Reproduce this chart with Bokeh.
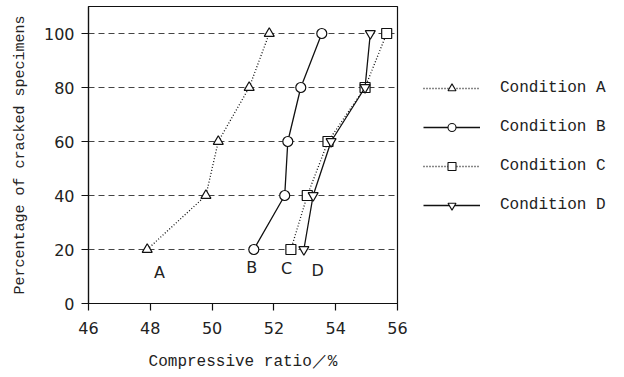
from bokeh.plotting import figure
from bokeh.models import Legend, LegendItem, FixedTicker, Range1d
from bokeh.core.properties import value
from bokeh.embed import file_html
from bokeh.resources import INLINE

# ---- data ----
pct = [20, 40, 60, 80, 100]
cond_a = [47.9, 49.8, 50.2, 51.2, 51.85]
cond_b = [51.35, 52.35, 52.45, 52.87, 53.55]
cond_c = [52.55, 53.08, 53.75, 54.95, 55.65]
cond_d = [52.97, 53.27, 53.85, 54.95, 55.12]
series_names = ["Condition A", "Condition B", "Condition C", "Condition D"]
letters = ["A", "B", "C", "D"]
letter_x = [48.3, 51.28, 52.41, 53.42]
letter_y = [11.5, 13.2, 12.8, 12.2]
x_ticks = [46, 48, 50, 52, 54, 56]
y_ticks = [0, 20, 40, 60, 80, 100]

p = figure(frame_width=309, frame_height=297, output_backend="svg",
           toolbar_location=None, x_range=Range1d(46, 56), y_range=Range1d(0, 110),
           min_border_left=88, min_border_right=215, min_border_top=6,
           min_border_bottom=70, background_fill_color="white",
           border_fill_color="white")

p.outline_line_color = "#111111"
p.outline_line_width = 1.2
p.xgrid.visible = False
p.ygrid.ticker = FixedTicker(ticks=y_ticks[1:])
p.ygrid.grid_line_color = "#444444"
p.ygrid.grid_line_dash = "6 4"
p.ygrid.grid_line_width = 1

for ax in (p.xaxis[0], p.yaxis[0]):
    ax.axis_line_color = "#111111"
    ax.axis_line_width = 1.2
    ax.major_tick_line_color = "#111111"
    ax.major_tick_line_width = 1.2
    ax.major_tick_out = 7
    ax.major_tick_in = 0
    ax.minor_tick_line_color = None
    ax.major_label_text_font = "DejaVu Sans"
    ax.major_label_text_font_size = "16px"
    ax.major_label_text_color = "#222222"
    ax.axis_label_text_font_style = "normal"
    ax.axis_label_text_color = "#222222"

p.xaxis.ticker = FixedTicker(ticks=x_ticks)
p.yaxis.ticker = FixedTicker(ticks=y_ticks)
p.xaxis.major_label_standoff = 11
p.yaxis.major_label_standoff = 7
p.xaxis.axis_label = "Compressive ratio／%"
p.xaxis.axis_label_text_font = "Liberation Mono"
p.xaxis.axis_label_text_font_size = "16px"
p.xaxis.axis_label_standoff = 16
p.yaxis.axis_label = "Percentage of cracked specimens"
p.yaxis.axis_label_text_font = "Liberation Mono"
p.yaxis.axis_label_text_font_size = "15px"
p.yaxis.axis_label_standoff = 12

styles = [
    (cond_a, "dotted_line", "triangle"),
    (cond_b, "solid", "circle"),
    (cond_c, "dotted_line", "square"),
    (cond_d, "solid", "inverted_triangle"),
]

items = []
for (xs, dash, marker), name in zip(styles, series_names):
    ld = "1 2" if dash == "dotted_line" else "solid"
    lr = p.line(xs, pct, line_color="#111111", line_width=1.3, line_dash=ld)
    # smaller marker used for the legend key; it sits under the plotted marker
    small = p.scatter(xs, pct, marker=marker, size=7, fill_color="white",
                      line_color="#111111", line_width=1.1)
    p.scatter(xs, pct, marker=marker, size=10, fill_color="white",
              line_color="#111111", line_width=1.2)
    items.append(LegendItem(label=name, renderers=[lr, small]))

p.text(x=letter_x, y=letter_y, text=letters, text_font=value("DejaVu Sans"),
       text_font_size="16px", text_color="#222222", text_align="center",
       text_baseline="middle")

legend = Legend(items=items, location=(26, 88), glyph_width=57, glyph_height=20,
                label_height=20, spacing=19, label_standoff=20, padding=0, margin=0,
                border_line_color=None, background_fill_alpha=0,
                label_text_font="Liberation Mono", label_text_font_size="16px",
                label_text_color="#222222")
p.add_layout(legend, "right")

open("out.html", "w").write(file_html(p, INLINE))
